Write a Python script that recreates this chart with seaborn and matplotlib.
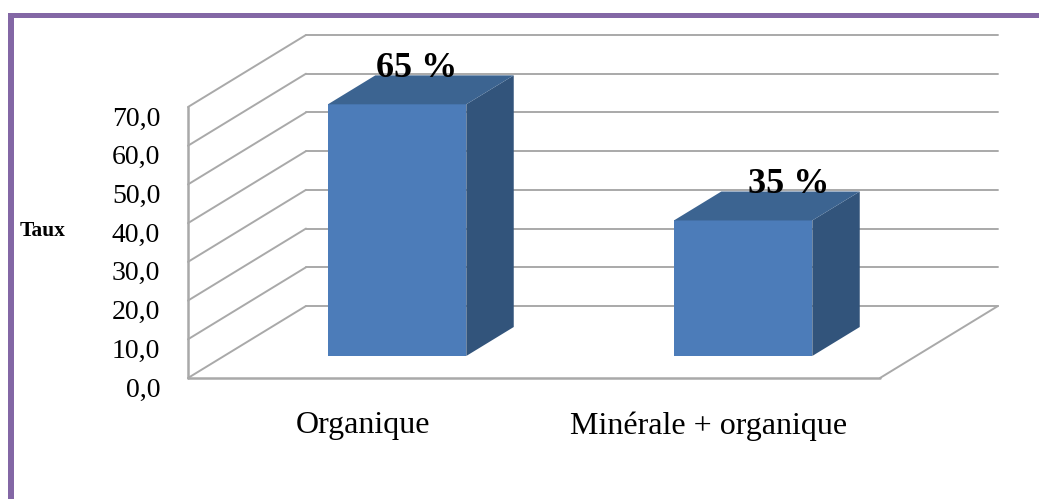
import matplotlib
matplotlib.use("Agg")
import matplotlib.pyplot as plt
from matplotlib.patches import Polygon, Rectangle
from matplotlib.transforms import ScaledTranslation
import pandas as pd
import seaborn as sns

categories = ["Organique", "Minérale + organique"]
values = [65, 35]
bar_labels = ["65 %", "35 %"]
y_ticks = [0, 10, 20, 30, 40, 50, 60, 70]
y_tick_labels = ["0,0", "10,0", "20,0", "30,0", "40,0", "50,0", "60,0", "70,0"]

sns.set_theme(style="white")
plt.rcParams["font.family"] = ["Liberation Serif", "DejaVu Serif"]

W, H = 1039, 499
GRID = "#a9a9a9"
FRONT, TOP, SIDE = "#4c7cb9", "#3c6491", "#32547b"
PURPLE = "#8367a5"

fig = plt.figure(figsize=(W / 100, H / 100), dpi=100, facecolor="white")
ax = fig.add_axes([188 / W, (H - 378) / H, 692 / W, 271 / H])

df = pd.DataFrame({"type": categories, "taux": values})
sns.barplot(data=df, x="type", y="taux", color=FRONT, saturation=1, width=0.40,
            linewidth=0, ax=ax, zorder=3)
ax.set_xlim(-0.5, 1.5)
ax.set_ylim(0, 70)

# depth of the fake 3D box, in data units
DX = 118 / 346
DY = 72 / 3.87
BAR_FRONT, BAR_BACK = 0.306, 0.708


def proj(x, y, d):
    return x + d * DX, y + d * DY


def line(p, q, lw=1.4):
    ax.plot([p[0], q[0]], [p[1], q[1]], color=GRID, lw=lw, clip_on=False,
            zorder=1, solid_capstyle="round")


# walls and floor
for t in y_ticks:
    line(proj(-0.5, t, 0), proj(-0.5, t, 1))
    line(proj(-0.5, t, 1), proj(1.5, t, 1))
line((-0.5, 0), (-0.5, 70), lw=1.8)
line((-0.5, 0), (1.5, 0), lw=1.8)
line((1.5, 0), proj(1.5, 0, 1))

# push bars back into the box and add side + top faces
lab_off = [(-3, -1), (15.5, -1)]
for p, lab, off in zip(list(ax.patches), bar_labels, lab_off):
    x0 = p.get_x() + BAR_FRONT * DX
    x1 = x0 + p.get_width()
    y0 = p.get_y() + BAR_FRONT * DY
    y1 = y0 + p.get_height()
    p.set_x(x0)
    p.set_y(y0)
    p.set_clip_on(False)
    d = BAR_BACK - BAR_FRONT
    side = [(x1, y0), (x1 + d * DX, y0 + d * DY), (x1 + d * DX, y1 + d * DY), (x1, y1)]
    top = [(x0, y1), (x1, y1), (x1 + d * DX, y1 + d * DY), (x0 + d * DX, y1 + d * DY)]
    ax.add_patch(Polygon(side, closed=True, fc=SIDE, ec="none", clip_on=False, zorder=3))
    ax.add_patch(Polygon(top, closed=True, fc=TOP, ec="none", clip_on=False, zorder=3))
    ax.annotate(lab, xy=((x0 + x1) / 2 + d * DX / 2, y1 + d * DY), xytext=off,
                textcoords="offset points", ha="center", va="baseline",
                fontsize=26, fontweight="bold", color="black", zorder=4,
                annotation_clip=False)

ax.set_xlabel("")
ax.set_ylabel("Taux", rotation=0, fontsize=15.5, fontweight="bold", color="black",
              ha="center", va="center")
ax.yaxis.set_label_coords((43 - 188) / 692, (378 - 231) / 271)
ax.set_yticks(y_ticks)
ax.set_yticklabels(y_tick_labels, fontsize=20, color="black")
ax.tick_params(axis="y", length=0, pad=20)
ax.tick_params(axis="x", length=0, pad=24, labelsize=23, labelcolor="black")
shift = ScaledTranslation(0, -9 / 100, fig.dpi_scale_trans)
for t in ax.get_yticklabels():
    t.set_transform(t.get_transform() + shift)
shift_x = ScaledTranslation(2 / 100, 0, fig.dpi_scale_trans)
for t in ax.get_xticklabels():
    t.set_transform(t.get_transform() + shift_x)
sns.despine(ax=ax, left=True, bottom=True)
ax.patch.set_visible(False)

# purple frame
fig.add_artist(Rectangle((8 / W, 0), 6 / W, (H - 13) / H, transform=fig.transFigure,
                         fc=PURPLE, ec="none"))
fig.add_artist(Rectangle((8 / W, (H - 18) / H), (W - 8) / W, 5 / H, transform=fig.transFigure,
                         fc=PURPLE, ec="none"))

fig.savefig("out.png", dpi=100)
